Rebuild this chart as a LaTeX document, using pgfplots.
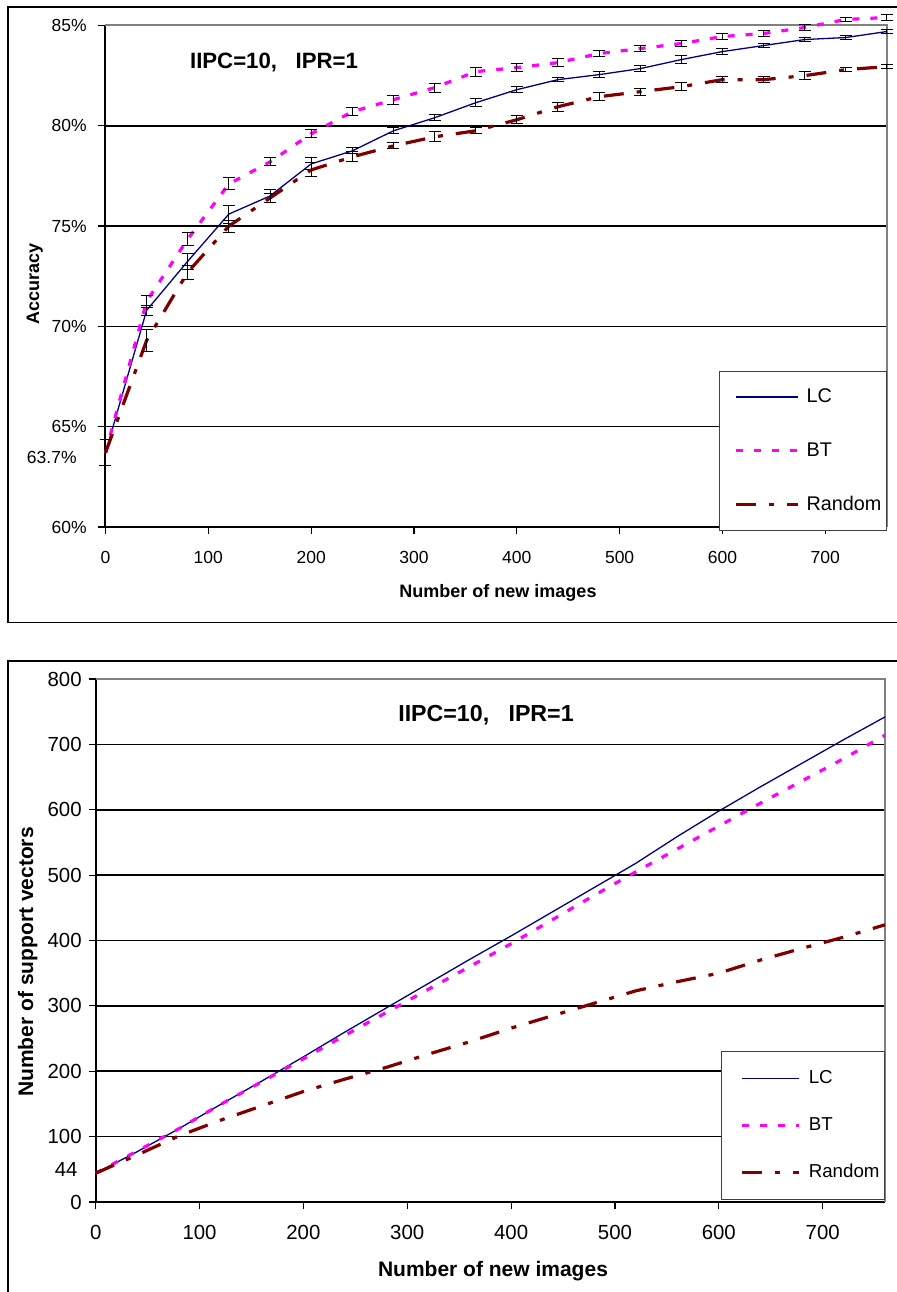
\documentclass[border=0pt]{standalone}
\usepackage{fontspec}
\setmainfont{Liberation Sans}
\usepackage{pgfplots}
\usepackage{pgfplotstable}
\pgfplotsset{compat=1.18}
\definecolor{lcnavy}{HTML}{000080}
\definecolor{btmag}{HTML}{FF00FF}
\definecolor{rdred}{HTML}{800000}
\definecolor{bordergray}{HTML}{808080}

\pgfplotstableread{
x   lc    lce   bt    bte   rd    rde
0   63.7  0.65  63.7  0.65  63.7  0.65
40  70.8  0.25  71.25 0.30  69.3  0.55
80  73.25 0.40  74.35 0.33  72.7  0.35
120 75.6  0.45  77.1  0.30  75.0  0.30
160 76.5  0.30  78.2  0.20  76.4  0.20
200 78.1  0.30  79.6  0.20  77.8  0.35
240 78.75 0.15  80.7  0.20  78.45 0.25
280 79.75 0.15  81.3  0.22  79.0  0.15
320 80.4  0.15  81.9  0.22  79.45 0.25
360 81.15 0.20  82.7  0.22  79.75 0.15
400 81.8  0.15  82.9  0.20  80.3  0.20
440 82.3  0.10  83.15 0.20  80.95 0.22
480 82.55 0.15  83.6  0.13  81.45 0.20
520 82.85 0.15  83.85 0.13  81.7  0.17
560 83.3  0.20  84.1  0.13  81.95 0.20
600 83.7  0.15  84.45 0.17  82.3  0.15
640 84.0  0.12  84.6  0.15  82.3  0.15
680 84.3  0.12  84.9  0.17  82.5  0.20
720 84.4  0.10  85.3  0.10  82.8  0.10
760 84.7  0.08  85.4  0.15  82.95 0.10
}\acc

\pgfplotstableread{
x   lc   bt   rd
0   44   44   44
40  77   78   72
80  112  112  101
120 149  149  125
160 185  184  147
200 222  219  169
240 260  255  188
280 297  290  206
320 334  325  226
360 371  360  245
400 407  395  266
440 444  432  285
480 481  469  304
520 518  505  323
560 559  540  337
600 598  575  350
640 635  610  370
680 671  644  388
720 707  678  405
760 742  714  424
}\sv

\pgfplotsset{
  common/.style={
    scale only axis, axis lines*=left, tick align=outside,
    major tick length=3.5pt,
    axis line style={black, line width=1pt},
    tick style={black, line width=0.6pt},
    ymajorgrids, grid style={black, line width=0.8pt},
    xmin=0, xmax=760, xtick={0,100,...,700},
    clip=false,
    /pgf/number format/assume math mode=true,
    legend cell align=left,
  },
  errs/.style={error bars/.cd, y dir=both, y explicit,
    error bar style={black, line width=0.5pt, solid},
    error mark options={rotate=90, black, mark size=3pt, line width=0.5pt, solid}},
  lcstyle/.style={lcnavy, line width=0.65pt},
  btstyle/.style={btmag, line width=1.6pt, dash pattern=on 3.5pt off 5.5pt},
  rdstyle/.style={rdred, line width=1.6pt, dash pattern=on 10pt off 6.5pt on 2.5pt off 6.5pt},
}

\begin{document}
\begin{tikzpicture}[x=0.5pt,y=0.5pt]
\useasboundingbox (0,0) rectangle (897,1292);
% outer frames
\draw[line width=0.85pt] (905,1285.3) -- (8.3,1285.3) -- (8.3,669.5) -- (905,669.5);
\draw[line width=0.85pt] (905,631.3) -- (8.3,631.3) -- (8.3,-10);

% ---------- top chart ----------
\begin{axis}[common,
  at={(52.75pt,382.5pt)}, anchor=south west,
  width=390.75pt, height=250.75pt,
  ymin=60, ymax=85, ytick={60,65,70,75,80,85},
  yticklabel={\pgfmathprintnumber{\tick}\%},
  ticklabel style={font=\fontsize{8.75}{10}\selectfont},
  xticklabel style={yshift=-5pt},
  yticklabel style={xshift=-2.35pt},
  legend style={at={(1,-0.008)}, anchor=south east, draw=black!75, line width=0.5pt,
    fill=white, font=\fontsize{9.9}{11}\selectfont,
    inner xsep=1.5pt, inner ysep=7.5pt, row sep=16.5pt,
    nodes={inner sep=1pt},
    /tikz/every odd column/.append style={column sep=2.5pt},
    /tikz/every even column/.append style={column sep=0pt}},
  legend image code/.code={\path (-6pt,0pt); \draw[#1] (0pt,0pt) -- (31pt,0pt);},
]
\draw[bordergray, line width=1pt] (rel axis cs:0,1) -- (rel axis cs:1,1) -- (rel axis cs:1,0);
\addplot[lcstyle, errs] table[x=x, y=lc, y error=lce] {\acc};
\addlegendentry{LC}
\addplot[btstyle, errs] table[x=x, y=bt, y error=bte] {\acc};
\addlegendentry{BT}
\addplot[rdstyle, errs] table[x=x, y=rd, y error=rde] {\acc};
\addlegendentry{Random}
\node[anchor=east, inner sep=0pt, font=\fontsize{8.75}{10}\selectfont,
  xshift=-14.25pt, yshift=-2.5pt] at (axis cs:0,63.7) {63.7\%};
\end{axis}

% ---------- bottom chart ----------
\begin{axis}[common,
  at={(47.85pt,45pt)}, anchor=south west,
  width=394.65pt, height=261.5pt,
  ymin=0, ymax=800, ytick={0,100,...,800},
  ticklabel style={font=\fontsize{10.2}{12}\selectfont},
  xticklabel style={yshift=-4.65pt},
  legend style={at={(1,0.004)}, anchor=south east, draw=black!75, line width=0.5pt,
    fill=white, font=\fontsize{9.35}{11}\selectfont,
    inner xsep=1.5pt, inner ysep=8.25pt, row sep=13.5pt,
    nodes={inner sep=1pt},
    /tikz/every odd column/.append style={column sep=3pt},
    /tikz/every even column/.append style={column sep=0pt}},
  legend image code/.code={\path (-8pt,0pt); \draw[#1] (0pt,0pt) -- (28.5pt,0pt);},
]
\draw[bordergray, line width=1pt] (rel axis cs:0,1) -- (rel axis cs:1,1) -- (rel axis cs:1,0);
\addplot[lcstyle] table[x=x, y=lc] {\sv};
\addlegendentry{LC}
\addplot[btstyle] table[x=x, y=bt] {\sv};
\addlegendentry{BT}
\addplot[rdstyle] table[x=x, y=rd] {\sv};
\addlegendentry{Random}
\node[anchor=east, inner sep=0pt, font=\fontsize{10.2}{12}\selectfont,
  xshift=-8.85pt, yshift=2pt] at (axis cs:0,44) {44};
\end{axis}

% titles and labels
\node[anchor=base, font=\bfseries\fontsize{11.1}{13}\selectfont] at (274,1223) {IIPC=10,\ \ \ IPR=1};
\node[anchor=base, font=\bfseries\fontsize{11.6}{14}\selectfont] at (486,570) {IIPC=10,\ \ \ IPR=1};
\node[anchor=base, font=\bfseries\fontsize{9}{11}\selectfont] at (498,694) {Number of new images};
\node[anchor=base, font=\bfseries\fontsize{10.5}{12}\selectfont] at (493,16) {Number of new images};
\node[anchor=base, rotate=90, font=\bfseries\fontsize{9}{11}\selectfont] at (39,1008) {Accuracy};
\node[anchor=base, rotate=90, font=\bfseries\fontsize{10.5}{12}\selectfont] at (33,330) {Number of support vectors};
\end{tikzpicture}
\end{document}
